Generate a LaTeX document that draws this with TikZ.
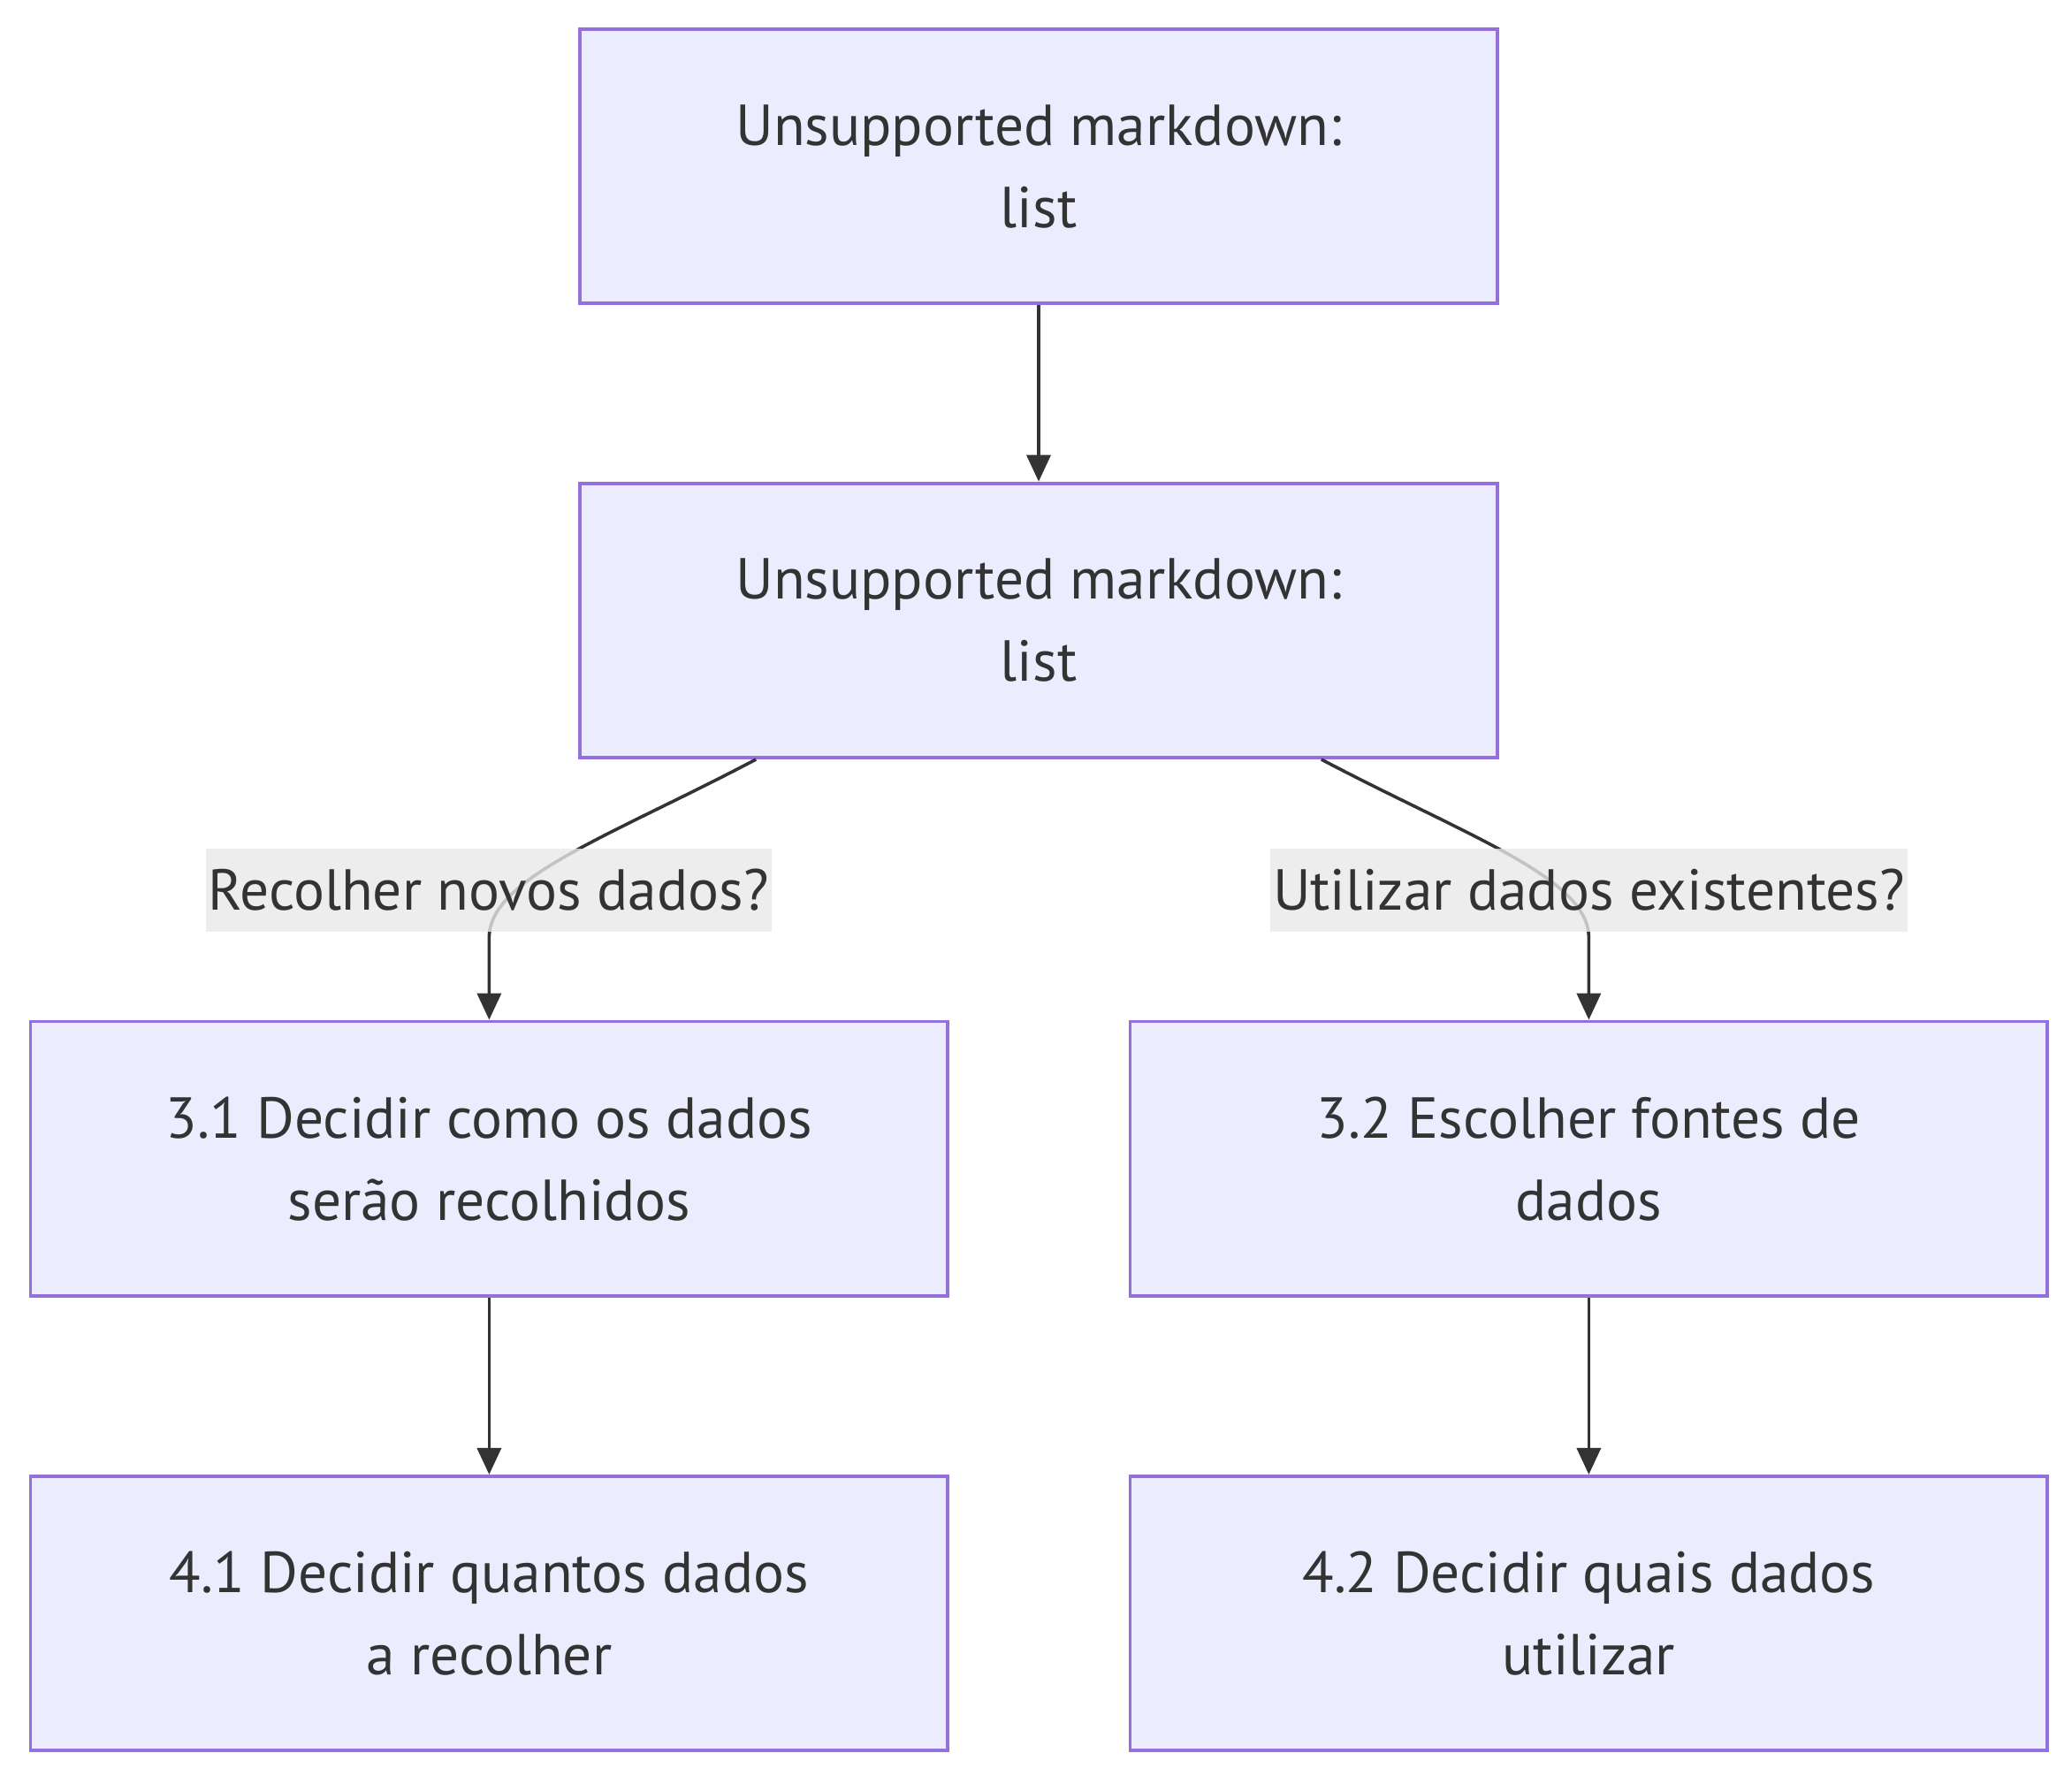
\documentclass[tikz,border=0pt]{standalone}
\usepackage{fontspec}
\setmainfont{PT Sans}
\usetikzlibrary{arrows.meta,calc}

\definecolor{boxfill}{HTML}{ECECFF}
\definecolor{boxline}{HTML}{9370DB}
\definecolor{testo}{HTML}{333333}
\definecolor{etich}{HTML}{E8E8E8}

\tikzset{
	passo/.style={draw=boxline, fill=boxfill, line width=1.3pt,
		minimum width=346pt, minimum height=103.5pt, inner sep=0pt,
		align=center, text=testo, font=\fontsize{21.8}{31}\selectfont},
	freccia/.style={draw=testo, line width=1.2pt, -{Triangle[length=10pt,width=9pt]}},
	etichetta/.style={fill=etich, fill opacity=0.8, text opacity=1, text=testo,
		inner xsep=1pt, inner ysep=0pt, minimum height=31.5pt,
		font=\fontsize{21.8}{31}\selectfont}
}

\begin{document}
\begin{tikzpicture}[x=0.5pt,y=-0.5pt]
	\useasboundingbox (0,0) rectangle (1563,1339);

	% Riquadri
	\node[passo] (b1) at (783.5,125.5) {Unsupported markdown:\\list};
	\node[passo] (b2) at (783.5,468) {Unsupported markdown:\\list};
	\node[passo] (b31) at (369,874) {3.1 Decidir como os dados\\serão recolhidos};
	\node[passo] (b32) at (1198.5,874) {3.2 Escolher fontes de\\dados};
	\node[passo] (b41) at (369,1217) {4.1 Decidir quantos dados\\a recolher};
	\node[passo] (b42) at (1198.5,1217) {4.2 Decidir quais dados\\utilizar};

	% Punti di piega
	\coordinate (k1) at ($(b31.north)+(0,-62)$);
	\coordinate (k2) at ($(b32.north)+(0,-62)$);

	% Frecce dritte
	\draw[freccia] (b1) -- (b2);
	\draw[freccia] (b31) -- (b41);
	\draw[freccia] (b32) -- (b42);

	% Frecce curve
	\draw[freccia] ($(b2.south west)!0.193!(b2.south east)$)
	.. controls +(-110,58) and +(0,-45) .. (k1) -- (b31.north);
	\draw[freccia] ($(b2.south west)!0.807!(b2.south east)$)
	.. controls +(110,58) and +(0,-45) .. (k2) -- (b32.north);

	% Etichette
	\node[etichetta] (e1) at (368.5,671.5) {Recolher novos dados?};
	\node[etichetta] (e2) at (1198.5,671.5) {Utilizar dados existentes?};

\end{tikzpicture}
\end{document}
